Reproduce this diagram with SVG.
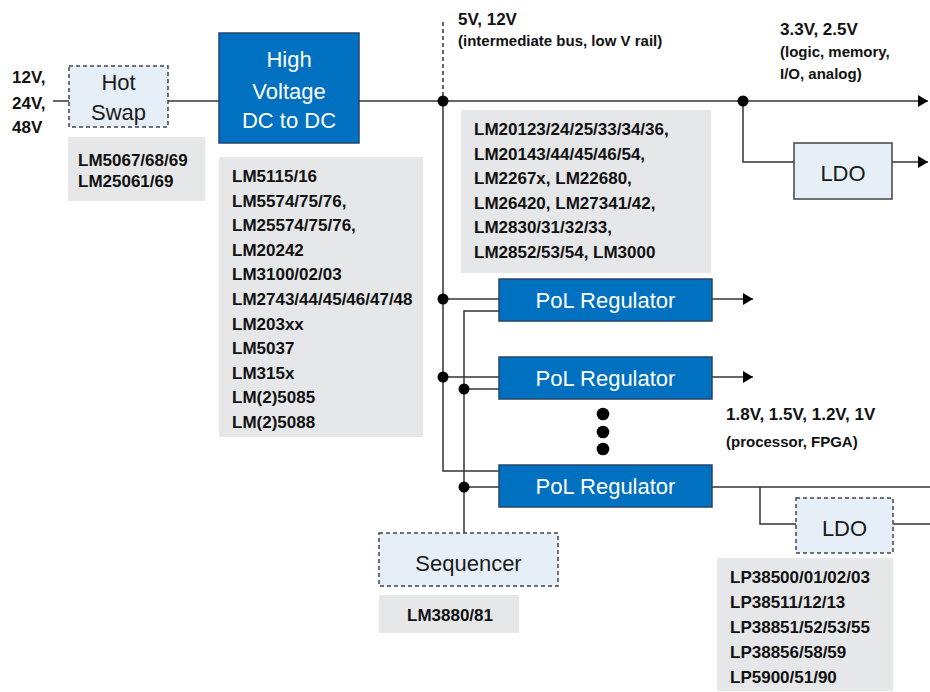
<svg xmlns="http://www.w3.org/2000/svg" width="930" height="692" viewBox="0 0 930 692">
<style>
.ln{stroke:#333;stroke-width:1.5;fill:none}
.dash{stroke-dasharray:4 3}
.blue{fill:#0070c0;stroke:#24466b;stroke-width:1.5}
.lb{fill:#e6eff8;stroke:#444;stroke-width:1.5}
.gray{fill:#e6e7e8}
.wt{font-family:"Liberation Sans",Arial,sans-serif;font-size:22px;fill:#fff;text-anchor:middle}
.bt{font-family:"Liberation Sans",Arial,sans-serif;font-size:22px;fill:#1a1a1a;text-anchor:middle}
.pn{font-family:"Liberation Sans",Arial,sans-serif;font-weight:bold;font-size:17px;fill:#111}
.sm{font-size:15px}
</style>
<defs>
<marker id="ah" markerWidth="10" markerHeight="12" refX="10" refY="6" orient="auto" markerUnits="userSpaceOnUse"><path d="M0,0 L10,6 L0,12 z" fill="#000"/></marker>
</defs>
<rect width="930" height="692" fill="#fff"/>

<g id="connectors">
<path class="ln" d="M53,101 H69"/>
<path class="ln" d="M168,101 H219"/>
<path class="ln" d="M359,101 H928" marker-end="url(#ah)"/>
<path class="ln dash" d="M443,22 V101"/>
<path class="ln" d="M443,101 V471 H499"/>
<path class="ln" d="M443,299 H499"/>
<path class="ln" d="M443,377 H499"/>
<path class="ln" d="M743,101 V162 H794"/>
<path class="ln" d="M892,162 H928" marker-end="url(#ah)"/>
<path class="ln" d="M712,299 H753" marker-end="url(#ah)"/>
<path class="ln" d="M712,377 H753" marker-end="url(#ah)"/>
<path class="ln" d="M712,487 H930"/>
<path class="ln" d="M760,487 V524 H796"/>
<path class="ln" d="M893,524 H930"/>
<path class="ln" d="M464,533 V311 H499"/>
<path class="ln" d="M464,389 H499"/>
<path class="ln" d="M464,487 H499"/>
<circle cx="443" cy="101" r="5.5"/>
<circle cx="743" cy="101" r="5.5"/>
<circle cx="443" cy="299" r="5.5"/>
<circle cx="443" cy="377" r="5.5"/>
<circle cx="464" cy="389" r="5.5"/>
<circle cx="464" cy="487" r="5.5"/>
</g>

<g id="input-label">
<text class="pn" x="12" y="83">12V,</text>
<text class="pn" x="12" y="109">24V,</text>
<text class="pn" x="12" y="133">48V</text>
</g>

<g id="hotswap">
<rect class="lb dash" x="69" y="66" width="99" height="61"/>
<text class="bt" x="118.5" y="90">Hot</text>
<text class="bt" x="118.5" y="120">Swap</text>
</g>
<g id="hotswap-parts">
<rect class="gray" x="68" y="137" width="137" height="64"/>
<text class="pn" x="78" y="165.5">LM5067/68/69</text>
<text class="pn" x="78" y="186.5">LM25061/69</text>
</g>

<g id="hv-dcdc">
<rect class="blue" x="219" y="33" width="140" height="110"/>
<text class="wt" x="289" y="67">High</text>
<text class="wt" x="289" y="99">Voltage</text>
<text class="wt" x="289" y="128">DC to DC</text>
</g>
<g id="hv-parts">
<rect class="gray" x="219" y="157" width="204" height="280"/>
<text class="pn" x="232" y="182">LM5115/16</text>
<text class="pn" x="232" y="206.6">LM5574/75/76,</text>
<text class="pn" x="232" y="231.2">LM25574/75/76,</text>
<text class="pn" x="232" y="255.8">LM20242</text>
<text class="pn" x="232" y="280.4">LM3100/02/03</text>
<text class="pn" x="232" y="305">LM2743/44/45/46/47/48</text>
<text class="pn" x="232" y="329.6">LM203xx</text>
<text class="pn" x="232" y="354.2">LM5037</text>
<text class="pn" x="232" y="378.8">LM315x</text>
<text class="pn" x="232" y="403.4">LM(2)5085</text>
<text class="pn" x="232" y="428">LM(2)5088</text>
</g>

<g id="bus-label">
<text class="pn" x="458" y="25">5V, 12V</text>
<text class="pn sm" x="458" y="46">(intermediate bus, low V rail)</text>
</g>
<g id="rail-label">
<text class="pn" x="780" y="35">3.3V, 2.5V</text>
<text class="pn sm" x="780" y="57">(logic, memory,</text>
<text class="pn sm" x="780" y="79">I/O, analog)</text>
</g>

<g id="pol-parts">
<rect class="gray" x="461" y="110" width="250" height="163"/>
<text class="pn" x="474" y="135">LM20123/24/25/33/34/36,</text>
<text class="pn" x="474" y="159.6">LM20143/44/45/46/54,</text>
<text class="pn" x="474" y="184.2">LM2267x, LM22680,</text>
<text class="pn" x="474" y="208.8">LM26420, LM27341/42,</text>
<text class="pn" x="474" y="233.4">LM2830/31/32/33,</text>
<text class="pn" x="474" y="258">LM2852/53/54, LM3000</text>
</g>

<g id="ldo-top">
<rect class="lb" x="794" y="143" width="98" height="56"/>
<text class="bt" x="843" y="181">LDO</text>
</g>

<g id="pol1">
<rect class="blue" x="499" y="279" width="213" height="42"/>
<text class="wt" x="605.5" y="308">PoL Regulator</text>
</g>
<g id="pol2">
<rect class="blue" x="499" y="357" width="213" height="42"/>
<text class="wt" x="605.5" y="386">PoL Regulator</text>
</g>
<g id="ellipsis">
<circle cx="603" cy="414" r="6.3"/>
<circle cx="603" cy="432" r="6.3"/>
<circle cx="603" cy="449" r="6.3"/>
</g>
<g id="pol3">
<rect class="blue" x="499" y="465" width="213" height="42"/>
<text class="wt" x="605.5" y="494">PoL Regulator</text>
</g>

<g id="core-label">
<text class="pn" x="726" y="420">1.8V, 1.5V, 1.2V, 1V</text>
<text class="pn sm" x="726" y="447">(processor, FPGA)</text>
</g>

<g id="sequencer">
<rect class="lb dash" x="379" y="533" width="179" height="53"/>
<text class="bt" x="468.5" y="571">Sequencer</text>
</g>
<g id="sequencer-parts">
<rect class="gray" x="379" y="595" width="140" height="38"/>
<text class="pn" x="407" y="620.5">LM3880/81</text>
</g>

<g id="ldo-bottom">
<rect class="lb dash" x="796" y="498" width="97" height="55"/>
<text class="bt" x="844.5" y="536">LDO</text>
</g>
<g id="ldo-parts">
<rect class="gray" x="717" y="558" width="176" height="133"/>
<text class="pn" x="730" y="583">LP38500/01/02/03</text>
<text class="pn" x="730" y="607.9">LP38511/12/13</text>
<text class="pn" x="730" y="632.8">LP38851/52/53/55</text>
<text class="pn" x="730" y="657.7">LP38856/58/59</text>
<text class="pn" x="730" y="682.5">LP5900/51/90</text>
</g>
</svg>
